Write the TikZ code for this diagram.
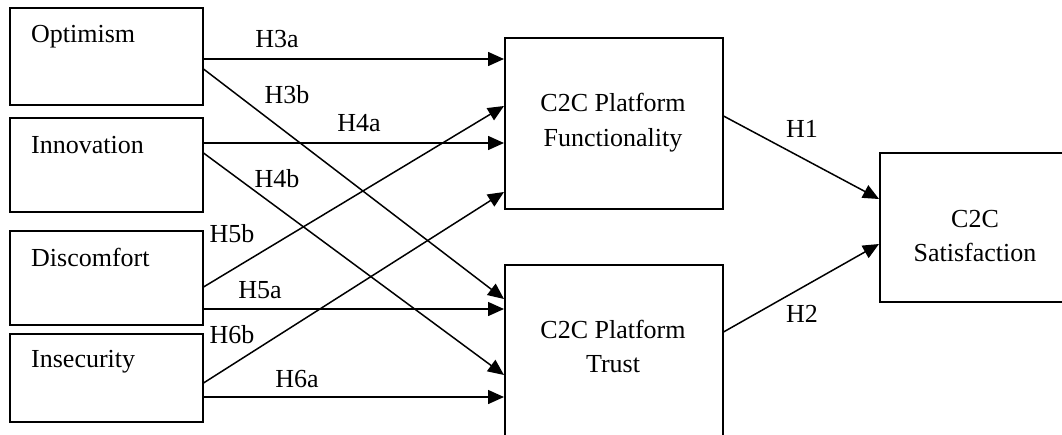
\documentclass[tikz,border=0pt]{standalone}
\usepackage{fontspec}
\setmainfont{Liberation Serif}
\usetikzlibrary{arrows.meta}
\begin{document}
\begin{tikzpicture}[x=1pt,y=-1pt,
  box/.style={draw, line width=1.5pt, inner sep=0pt, anchor=north west},
  txt/.style={font=\fontsize{26}{35}\selectfont, inner sep=0pt},
  arr/.style={line width=1.5pt, -{Triangle[length=16pt,width=14pt]}},
]
\useasboundingbox (0,0) rectangle (1062,434);
\clip (0,0) rectangle (1062,434);

% boxes
\node[box, minimum width=193pt, minimum height=97pt] (opt) at (9,7) {};
\node[box, minimum width=193pt, minimum height=94pt] (inn) at (9,117) {};
\node[box, minimum width=193pt, minimum height=94pt] (dis) at (9,230) {};
\node[box, minimum width=193pt, minimum height=88pt] (ins) at (9,333) {};
\node[box, minimum width=218pt, minimum height=171pt] (fun) at (504,37) {};
\node[box, minimum width=218pt, minimum height=210pt] (tru) at (504,264) {};
\node[box, minimum width=210pt, minimum height=149pt] (sat) at (879,152) {};

% box texts
\node[txt, anchor=base west] (optt) at (31,42) {Optimism};
\node[txt, anchor=base west] (innt) at (31,153) {Innovation};
\node[txt, anchor=base west] (dist) at (31,266) {Discomfort};
\node[txt, anchor=base west] (inst) at (31,367) {Insecurity};
\node[txt, anchor=base] (funt1) at (613,111) {C2C Platform};
\node[txt, anchor=base] (funt2) at (613,146) {Functionality};
\node[txt, anchor=base] (trut1) at (613,338) {C2C Platform};
\node[txt, anchor=base] (trut2) at (613,372) {Trust};
\node[txt, anchor=base] (satt1) at (975,227) {C2C};
\node[txt, anchor=base] (satt2) at (975,261) {Satisfaction};

% connectors
\draw[arr] ([yshift=-52pt]opt.north east) -- ([yshift=-22pt]fun.north west);
\draw[arr] ([yshift=-62pt]opt.north east) -- ([yshift=-35pt]tru.north west);
\draw[arr] ([yshift=-26pt]inn.north east) -- ([yshift=-106pt]fun.north west);
\draw[arr] ([yshift=-36pt]inn.north east) -- ([yshift=-111pt]tru.north west);
\draw[arr] ([yshift=-57pt]dis.north east) -- ([yshift=-69pt]fun.north west);
\draw[arr] ([yshift=-79pt]dis.north east) -- ([yshift=-45pt]tru.north west);
\draw[arr] ([yshift=-50pt]ins.north east) -- ([yshift=-155pt]fun.north west);
\draw[arr] ([yshift=-64pt]ins.north east) -- ([yshift=-133pt]tru.north west);
\draw[arr] ([yshift=-79pt]fun.north east) -- ([yshift=-47pt]sat.north west);
\draw[arr] ([yshift=-68pt]tru.north east) -- ([yshift=-92pt]sat.north west);

% labels
\node[txt, anchor=base] (l3a) at (277,47) {H3a};
\node[txt, anchor=base] (l3b) at (287,103) {H3b};
\node[txt, anchor=base] (l4a) at (359,131) {H4a};
\node[txt, anchor=base] (l4b) at (277,187) {H4b};
\node[txt, anchor=base] (l5b) at (232,242) {H5b};
\node[txt, anchor=base] (l5a) at (260,298) {H5a};
\node[txt, anchor=base] (l6b) at (232,343) {H6b};
\node[txt, anchor=base] (l6a) at (297,387) {H6a};
\node[txt, anchor=base] (l1) at (802,137) {H1};
\node[txt, anchor=base] (l2) at (802,322) {H2};
\end{tikzpicture}
\end{document}
